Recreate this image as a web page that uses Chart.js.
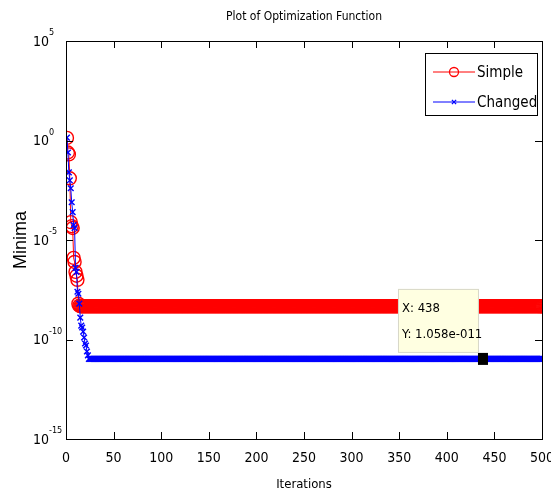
<!DOCTYPE html>
<html>
<head>
<meta charset="utf-8">
<script src="https://cdn.jsdelivr.net/npm/chart.js@4.4.1/dist/chart.umd.min.js"></script>
<style>
  html, body { margin: 0; padding: 0; background: #fff; }
  canvas { display: block; }
</style>
</head>
<body>
<canvas id="chart" width="551" height="497"></canvas>
<script>
const chartTitle = 'Plot of Optimization Function'
const xTitle = 'Iterations'
const yTitle = 'Minima'
const seriesNames = ['Simple', 'Changed']
const xTicks = [0, 50, 100, 150, 200, 250, 300, 350, 400, 450, 500]
const yTickExps = [5, 0, -5, -10, -15]
const iterations = 500

// first iterations, after that both curves stay flat
const simpleStart = [1.35, 0.25, 0.2, 1.26e-2, 7.9e-5, 5.0e-5, 4.0e-5, 1.26e-6, 7.9e-7, 2.5e-7, 1.6e-7, 1.0e-7, 6.3e-9, 5.0e-9]
const simpleFlat = 4.7e-9
const changedStart = [1.4, 0.25, 2.5e-2, 1.0e-2, 4.0e-3, 7.9e-4, 2.5e-4, 5.6e-5, 4.0e-5, 4.0e-7, 2.5e-7, 2.5e-8, 2.0e-8, 6.3e-9,
    1.26e-9, 5.0e-10, 4.0e-10, 2.5e-10, 1.26e-10, 6.3e-11, 5.0e-11, 2.5e-11, 1.6e-11]
const changedFlat = 1.058e-11

// data cursor on the blue curve
const cursorX = 438
const cursorText = ['X: 438', 'Y: 1.058e-011']

const narrow = "'Liberation Sans Narrow', 'DejaVu Sans Condensed', Arial, sans-serif"

function buildSeries(start, flat) {
    const pts = []
    for (let i = 1; i <= iterations; i++) {
        pts.push({ x: i, y: i <= start.length ? start[i - 1] : flat })
    }
    return pts
}

const styles = [
    { color: '#ff0000', pointStyle: 'circle', radius: 6.5 },
    { color: '#0000ff', pointStyle: 'crossRot', radius: 4 },
]

const matlabLook = {
    id: 'matlabLook',
    afterDraw(chart) {
        const { ctx, chartArea: a, scales: { x, y } } = chart
        ctx.save()

        // title
        ctx.fillStyle = '#000'
        ctx.font = '12px ' + narrow
        ctx.textAlign = 'center'
        ctx.textBaseline = 'middle'
        ctx.fillText(chartTitle, (a.left + a.right) / 2, 17)

        // y tick labels: base 10 with a raised exponent
        y.ticks.forEach(t => {
            const py = y.getPixelForValue(t.value)
            const exp = String(Math.round(Math.log10(t.value)))
            ctx.font = '14px ' + narrow
            ctx.textAlign = 'right'
            ctx.fillText('10', a.left - 17, py + 1)
            ctx.font = '9px ' + narrow
            ctx.textAlign = 'left'
            ctx.fillText(exp, a.left - 17, py - 8)
        })

        // box and inward ticks
        ctx.strokeStyle = '#000'
        ctx.lineWidth = 1
        ctx.strokeRect(a.left + 0.5, a.top + 0.5, a.right - a.left, a.bottom - a.top)
        const tl = 7
        ctx.beginPath()
        xTicks.forEach(v => {
            const px = Math.round(x.getPixelForValue(v)) + 0.5
            ctx.moveTo(px, a.bottom); ctx.lineTo(px, a.bottom - tl)
            ctx.moveTo(px, a.top); ctx.lineTo(px, a.top + tl)
        })
        yTickExps.forEach(e => {
            const py = Math.round(y.getPixelForValue(Math.pow(10, e))) + 0.5
            ctx.moveTo(a.left, py); ctx.lineTo(a.left + tl, py)
            ctx.moveTo(a.right, py); ctx.lineTo(a.right - tl, py)
        })
        ctx.stroke()

        // legend
        const lw = 112, lh = 62
        const lx = a.right - 5 - lw, ly = a.top + 12
        ctx.fillStyle = '#fff'
        ctx.fillRect(lx, ly, lw, lh)
        ctx.strokeRect(lx + 0.5, ly + 0.5, lw, lh)
        ctx.font = '15px ' + narrow
        ctx.textAlign = 'left'
        seriesNames.forEach((name, i) => {
            const st = styles[i]
            const yy = ly + 19 + i * 30
            ctx.strokeStyle = st.color
            ctx.lineWidth = 1
            ctx.beginPath()
            ctx.moveTo(lx + 8, yy); ctx.lineTo(lx + 50, yy)
            ctx.stroke()
            ctx.fillStyle = 'rgba(0,0,0,0)'
            ctx.lineWidth = 1.3
            Chart.helpers.drawPoint(ctx, { pointStyle: st.pointStyle, radius: i === 0 ? 4.5 : 3, rotation: 0, borderWidth: 1.3 }, lx + 29, yy)
            ctx.fillStyle = '#000'
            ctx.fillText(name, lx + 52, yy + 1)
        })

        // data cursor
        const pt = chart.getDatasetMeta(1).data[cursorX - 1]
        const cx = pt.x, cy = pt.y
        ctx.fillStyle = '#000'
        ctx.fillRect(cx - 5, cy - 6, 10, 12)
        const bw = 80, bh = 63
        const bx = cx - 5 - bw, by = cy - 7 - bh
        ctx.fillStyle = '#ffffe1'
        ctx.fillRect(bx, by, bw, bh)
        ctx.strokeStyle = '#d8d8c8'
        ctx.lineWidth = 1
        ctx.strokeRect(bx + 0.5, by + 0.5, bw, bh)
        ctx.fillStyle = '#000'
        ctx.font = '13px ' + narrow
        ctx.fillText(cursorText[0], bx + 4, by + 20)
        ctx.fillText(cursorText[1], bx + 4, by + 46)

        ctx.restore()
    }
}

new Chart(document.getElementById('chart'), {
    type: 'line',
    data: {
        datasets: [
            {
                label: seriesNames[0],
                data: buildSeries(simpleStart, simpleFlat),
                borderColor: styles[0].color,
                borderWidth: 1,
                pointStyle: styles[0].pointStyle,
                pointRadius: styles[0].radius,
                pointBorderWidth: 1.4,
                pointBorderColor: styles[0].color,
                pointBackgroundColor: 'rgba(0,0,0,0)',
                order: 1,
            },
            {
                label: seriesNames[1],
                data: buildSeries(changedStart, changedFlat),
                borderColor: styles[1].color,
                borderWidth: 1,
                pointStyle: styles[1].pointStyle,
                pointRadius: styles[1].radius,
                pointBorderWidth: 1.4,
                pointBorderColor: styles[1].color,
                pointBackgroundColor: 'rgba(0,0,0,0)',
                order: 0,
            },
        ]
    },
    options: {
        responsive: false,
        animation: false,
        layout: { padding: { top: 41, right: 9, left: 0, bottom: 0 } },
        plugins: {
            legend: { display: false },
            tooltip: { enabled: false },
        },
        scales: {
            x: {
                type: 'linear',
                min: 0,
                max: iterations,
                grid: { display: false, drawTicks: false },
                border: { display: false },
                afterBuildTicks: s => { s.ticks = xTicks.map(v => ({ value: v })) },
                afterFit: s => { s.height = 58; s.paddingLeft = 0; s.paddingRight = 0 },
                ticks: {
                    color: '#000',
                    font: { family: narrow, size: 14 },
                    padding: 11,
                    maxRotation: 0,
                    autoSkip: false,
                },
                title: {
                    display: true,
                    text: xTitle,
                    color: '#000',
                    font: { family: narrow, size: 13 },
                    padding: { top: 0, bottom: 5 },
                },
            },
            y: {
                type: 'logarithmic',
                min: 1e-15,
                max: 1e5,
                grid: { display: false, drawTicks: false },
                border: { display: false },
                afterBuildTicks: s => { s.ticks = yTickExps.map(e => ({ value: Math.pow(10, e) })) },
                afterFit: s => { s.width = 66; s.paddingTop = 0; s.paddingBottom = 0 },
                ticks: { display: false },
                title: {
                    display: true,
                    text: yTitle,
                    color: '#000',
                    font: { family: "'Liberation Sans', Arial, sans-serif", size: 18 },
                    padding: { top: 10, bottom: 0 },
                },
            },
        },
    },
    plugins: [matlabLook],
})
</script>
</body>
</html>
